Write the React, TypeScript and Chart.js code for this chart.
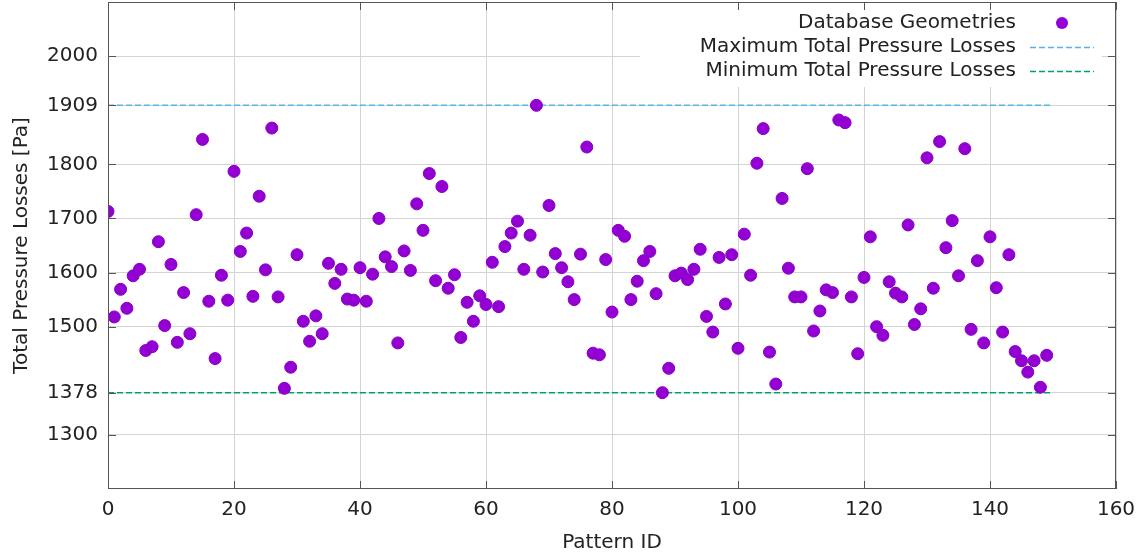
import React, { useEffect, useRef } from 'react';
import { Chart, registerables } from 'chart.js';

Chart.register(...registerables);

// Total pressure losses [Pa] for Pattern ID 0..149
const pressureLosses: number[] = [
  1713, 1518, 1569, 1534, 1594, 1606, 1456, 1463, 1657, 1502,
  1615, 1471, 1563, 1487, 1707, 1846, 1547, 1441, 1595, 1549,
  1787, 1639, 1673, 1556, 1741, 1605, 1867, 1555, 1386, 1425,
  1633, 1510, 1473, 1520, 1487, 1617, 1580, 1606, 1551, 1549,
  1609, 1547, 1597, 1700, 1629, 1611, 1470, 1640, 1604, 1727,
  1678, 1783, 1585, 1759, 1571, 1596, 1480, 1545, 1510, 1557,
  1541, 1619, 1537, 1648, 1673, 1695, 1606, 1669, 1909, 1601,
  1724, 1635, 1609, 1583, 1550, 1634, 1832, 1451, 1448, 1624,
  1527, 1678, 1667, 1550, 1584, 1622, 1639, 1561, 1378, 1423,
  1594, 1599, 1587, 1606, 1643, 1519, 1490, 1628, 1542, 1633,
  1460, 1671, 1595, 1802, 1866, 1453, 1394, 1737, 1608, 1555,
  1555, 1792, 1492, 1529, 1568, 1563, 1882, 1877, 1555, 1450,
  1591, 1666, 1500, 1484, 1583, 1562, 1555, 1688, 1504, 1533,
  1812, 1571, 1842, 1646, 1696, 1594, 1829, 1495, 1622, 1470,
  1666, 1572, 1490, 1633, 1454, 1437, 1416, 1437, 1388, 1447,
];

const maxLoss = 1909;
const minLoss = 1378;
const refLineIds = [0, 150];

const yTickValues = [1300, 1378, 1500, 1600, 1700, 1800, 1909, 2000];
const xTickValues = [0, 20, 40, 60, 80, 100, 120, 140, 160];
const yRange = [1200, 2100];
const xRange = [0, 160];

const seriesLabels = ['Database Geometries', 'Maximum Total Pressure Losses', 'Minimum Total Pressure Losses'];
const seriesColors = ['#9400d3', '#56b4e9', '#009e73'];

const FONT = '"DejaVu Sans", sans-serif';
const FONT_SIZE = 20;
const TEXT_COLOR = '#222222';

const gnuplotFrame = {
  id: 'gnuplotFrame',
  afterDraw(chart: any) {
    const { ctx, chartArea: a, scales } = chart;
    const xs = scales.x;
    const ys = scales.y;
    ctx.save();

    // opaque key box
    ctx.fillStyle = '#ffffff';
    ctx.fillRect(a.right - 476, a.top + 1, 462, 84);

    // key entries
    ctx.font = `${FONT_SIZE}px ${FONT}`;
    ctx.fillStyle = TEXT_COLOR;
    ctx.textAlign = 'right';
    ctx.textBaseline = 'middle';
    const textRight = a.right - 100;
    const rowY = [a.top + 21, a.top + 45, a.top + 69];
    seriesLabels.forEach((lbl, i) => {
      ctx.fillStyle = TEXT_COLOR;
      ctx.fillText(lbl, textRight, rowY[i]);
    });
    // sample marker
    ctx.fillStyle = seriesColors[0];
    ctx.beginPath();
    ctx.arc(a.right - 54, rowY[0], 6, 0, Math.PI * 2);
    ctx.fill();
    // sample lines
    for (let i = 1; i < 3; i++) {
      ctx.strokeStyle = seriesColors[i];
      ctx.lineWidth = 1.5;
      ctx.setLineDash([6, 3]);
      ctx.beginPath();
      ctx.moveTo(a.right - 86, rowY[i] + 0.5);
      ctx.lineTo(a.right - 22, rowY[i] + 0.5);
      ctx.stroke();
    }
    ctx.setLineDash([]);

    // border
    ctx.strokeStyle = '#555555';
    ctx.lineWidth = 1;
    ctx.strokeRect(a.left + 0.5, a.top + 0.5, a.right - a.left - 1, a.bottom - a.top - 1);

    // inward tick marks (mirrored)
    const tl = 8;
    ctx.beginPath();
    yTickValues.forEach((v) => {
      const py = Math.round(ys.getPixelForValue(v)) + 0.5;
      ctx.moveTo(a.left, py);
      ctx.lineTo(a.left + tl, py);
      ctx.moveTo(a.right, py);
      ctx.lineTo(a.right - tl, py);
    });
    xTickValues.forEach((v) => {
      const px = Math.round(xs.getPixelForValue(v)) + 0.5;
      ctx.moveTo(px, a.bottom);
      ctx.lineTo(px, a.bottom - tl);
      ctx.moveTo(px, a.top);
      ctx.lineTo(px, a.top + tl);
    });
    ctx.stroke();
    ctx.restore();
  },
};

export default function App() {
  const canvasRef = useRef<HTMLCanvasElement | null>(null);

  useEffect(() => {
    document.body.style.margin = '0';
    const canvas = canvasRef.current;
    if (!canvas) return;

    const scatterPoints = pressureLosses.map((v, i) => ({ x: i, y: v }));
    const maxLine = refLineIds.map((id) => ({ x: id, y: maxLoss }));
    const minLine = refLineIds.map((id) => ({ x: id, y: minLoss }));

    const chart = new Chart(canvas, {
      type: 'scatter',
      data: {
        datasets: [
          {
            label: seriesLabels[0],
            data: scatterPoints,
            pointRadius: 6,
            pointHoverRadius: 6,
            backgroundColor: seriesColors[0],
            borderColor: '#8400c0',
            borderWidth: 1,
            showLine: false,
          },
          {
            label: seriesLabels[1],
            data: maxLine,
            showLine: true,
            pointRadius: 0,
            borderColor: seriesColors[1],
            borderWidth: 1.5,
            borderDash: [6, 3],
          },
          {
            label: seriesLabels[2],
            data: minLine,
            showLine: true,
            pointRadius: 0,
            borderColor: seriesColors[2],
            borderWidth: 1.5,
            borderDash: [6, 3],
          },
        ],
      },
      options: {
        animation: false,
        responsive: false,
        maintainAspectRatio: false,
        layout: { autoPadding: false, padding: { top: 2, right: 31, left: 0, bottom: 0 } },
        plugins: {
          legend: { display: false },
          tooltip: { enabled: false },
        },
        scales: {
          x: {
            type: 'linear',
            min: xRange[0],
            max: xRange[1],
            afterBuildTicks: (scale: any) => {
              scale.ticks = xTickValues.map((v) => ({ value: v }));
            },
            afterFit: (scale: any) => {
              scale.height = 70;
              scale.paddingLeft = 0;
              scale.paddingRight = 0;
            },
            grid: { color: '#d4d4d4', lineWidth: 1, drawTicks: false },
            border: { display: false },
            ticks: {
              padding: 9,
              color: TEXT_COLOR,
              font: { family: FONT, size: FONT_SIZE },
              callback: (v: any) => String(v),
              maxRotation: 0,
            },
            title: {
              display: true,
              text: 'Pattern ID',
              color: TEXT_COLOR,
              font: { family: FONT, size: FONT_SIZE },
              padding: { top: 0, bottom: 4 },
            },
          },
          y: {
            type: 'linear',
            min: yRange[0],
            max: yRange[1],
            afterBuildTicks: (scale: any) => {
              scale.ticks = yTickValues.map((v) => ({ value: v }));
            },
            afterFit: (scale: any) => {
              scale.width = 108;
              scale.paddingTop = 0;
              scale.paddingBottom = 0;
            },
            grid: { color: '#d4d4d4', lineWidth: 1, drawTicks: false },
            border: { display: false },
            ticks: {
              padding: 10,
              color: TEXT_COLOR,
              font: { family: FONT, size: FONT_SIZE },
              callback: (v: any) => String(v),
            },
            title: {
              display: true,
              text: 'Total Pressure Losses [Pa]',
              color: TEXT_COLOR,
              font: { family: FONT, size: FONT_SIZE },
              padding: { top: 10, bottom: 0 },
            },
          },
        },
      },
      plugins: [gnuplotFrame],
    });

    return () => chart.destroy();
  }, []);

  return (
    <div style={{ position: 'fixed', left: 0, top: 0, width: 1147, height: 559, background: '#fff' }}>
      <canvas ref={canvasRef} width={1147} height={559} style={{ display: 'block', width: 1147, height: 559 }} />
    </div>
  );
}
